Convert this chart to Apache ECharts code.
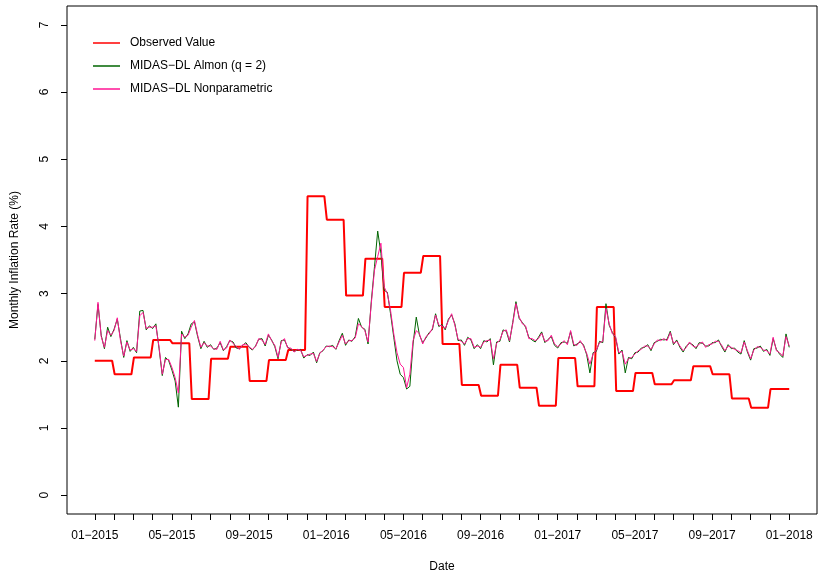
<!DOCTYPE html>
<html>
<head>
<meta charset="utf-8">
<script src="https://cdn.jsdelivr.net/npm/echarts@6/dist/echarts.min.js"></script>
<style>
  html, body { margin: 0; padding: 0; background: #fff; }
  #chart { width: 819px; height: 578px; }
</style>
</head>
<body>
<div id="chart"></div>
<script>
// observed monthly inflation, Jan 2015 .. Dec 2017 (one value per month)
var observed = [2.00, 1.80, 2.05, 2.31, 2.26, 1.43, 2.03, 2.21, 1.70, 2.01, 2.16, 4.45,
  4.10, 2.97, 3.52, 2.80, 3.31, 3.56, 2.25, 1.64, 1.48, 1.94, 1.60, 1.33,
  2.04, 1.62, 2.80, 1.55, 1.82, 1.65, 1.71, 1.92, 1.80, 1.44, 1.30, 1.58];

// nowcasts, 6 readings per month (217 points from 01-2015 to 01-2018)
var nonpar = [2.30, 2.87, 2.36, 2.20, 2.45, 2.38, 2.45, 2.64, 2.30, 2.07, 2.28, 2.16,
  2.18, 2.14, 2.67, 2.72, 2.48, 2.50, 2.50, 2.52, 2.20, 1.80, 2.02, 2.02,
  1.90, 1.75, 1.52, 2.40, 2.35, 2.38, 2.50, 2.60, 2.38, 2.20, 2.27, 2.22,
  2.22, 2.18, 2.17, 2.29, 2.16, 2.19, 2.31, 2.26, 2.21, 2.17, 2.24, 2.25,
  2.21, 2.17, 2.21, 2.33, 2.31, 2.24, 2.40, 2.30, 2.23, 2.05, 2.28, 2.33,
  2.19, 2.19, 2.13, 2.17, 2.16, 2.06, 2.08, 2.10, 2.11, 1.99, 2.11, 2.16,
  2.21, 2.22, 2.21, 2.18, 2.28, 2.38, 2.25, 2.30, 2.30, 2.34, 2.55, 2.51,
  2.45, 2.28, 2.85, 3.35, 3.55, 3.75, 3.10, 3.00, 2.75, 2.40, 2.12, 1.95,
  1.90, 1.60, 1.80, 2.30, 2.45, 2.40, 2.25, 2.36, 2.40, 2.48, 2.68, 2.53,
  2.52, 2.48, 2.60, 2.70, 2.53, 2.32, 2.29, 2.25, 2.33, 2.33, 2.20, 2.22,
  2.20, 2.28, 2.30, 2.31, 2.03, 2.26, 2.31, 2.44, 2.46, 2.30, 2.55, 2.85,
  2.65, 2.55, 2.52, 2.33, 2.33, 2.30, 2.33, 2.41, 2.29, 2.30, 2.38, 2.25,
  2.21, 2.25, 2.30, 2.24, 2.45, 2.24, 2.23, 2.30, 2.22, 2.11, 1.95, 2.10,
  2.16, 2.27, 2.29, 2.78, 2.55, 2.40, 2.36, 2.12, 2.14, 1.95, 2.03, 2.05,
  2.10, 2.15, 2.17, 2.22, 2.22, 2.17, 2.25, 2.31, 2.30, 2.33, 2.30, 2.42,
  2.26, 2.29, 2.22, 2.15, 2.20, 2.28, 2.22, 2.20, 2.25, 2.28, 2.20, 2.24,
  2.25, 2.29, 2.29, 2.23, 2.15, 2.22, 2.20, 2.17, 2.15, 2.12, 2.28, 2.15,
  2.03, 2.16, 2.21, 2.20, 2.16, 2.15, 2.10, 2.35, 2.15, 2.12, 2.07, 2.36,
  2.22];

var almon = [2.32, 2.84, 2.38, 2.18, 2.50, 2.36, 2.47, 2.62, 2.33, 2.05, 2.30, 2.14,
  2.20, 2.12, 2.74, 2.75, 2.46, 2.52, 2.48, 2.55, 2.18, 1.78, 2.05, 2.00,
  1.86, 1.70, 1.31, 2.44, 2.33, 2.40, 2.55, 2.58, 2.36, 2.18, 2.29, 2.20,
  2.24, 2.17, 2.19, 2.27, 2.15, 2.21, 2.30, 2.28, 2.19, 2.18, 2.23, 2.27,
  2.20, 2.16, 2.22, 2.32, 2.33, 2.22, 2.38, 2.31, 2.21, 2.03, 2.30, 2.31,
  2.20, 2.17, 2.14, 2.16, 2.17, 2.04, 2.09, 2.08, 2.13, 1.97, 2.12, 2.15,
  2.22, 2.21, 2.23, 2.17, 2.30, 2.41, 2.23, 2.31, 2.29, 2.36, 2.63, 2.50,
  2.47, 2.25, 2.88, 3.40, 3.93, 3.60, 3.05, 3.02, 2.70, 2.35, 2.00, 1.80,
  1.75, 1.58, 1.62, 2.25, 2.65, 2.38, 2.27, 2.34, 2.42, 2.46, 2.70, 2.51,
  2.54, 2.46, 2.62, 2.68, 2.55, 2.30, 2.31, 2.23, 2.35, 2.31, 2.18, 2.24,
  2.18, 2.30, 2.28, 2.33, 1.94, 2.28, 2.29, 2.46, 2.44, 2.28, 2.57, 2.88,
  2.63, 2.57, 2.50, 2.35, 2.31, 2.28, 2.35, 2.43, 2.27, 2.32, 2.36, 2.23,
  2.19, 2.27, 2.28, 2.26, 2.43, 2.22, 2.25, 2.28, 2.24, 2.09, 1.82, 2.12,
  2.14, 2.29, 2.27, 2.85, 2.53, 2.42, 2.34, 2.10, 2.16, 1.82, 2.05, 2.03,
  2.12, 2.13, 2.19, 2.20, 2.24, 2.15, 2.27, 2.29, 2.32, 2.31, 2.32, 2.44,
  2.24, 2.31, 2.20, 2.13, 2.22, 2.26, 2.24, 2.18, 2.27, 2.26, 2.22, 2.22,
  2.27, 2.27, 2.31, 2.21, 2.13, 2.24, 2.18, 2.19, 2.13, 2.10, 2.30, 2.13,
  2.01, 2.18, 2.19, 2.22, 2.14, 2.17, 2.08, 2.33, 2.17, 2.10, 2.05, 2.40,
  2.20];

// x axis: months since 01-2015
var tickMonths = [];
for (var m = 0; m <= 36; m++) tickMonths.push(m);
var labelMonths = [0, 4, 8, 12, 16, 20, 24, 28, 32, 36];
var labelText = ['01\u22122015', '05\u22122015', '09\u22122015', '01\u22122016', '05\u22122016',
  '09\u22122016', '01\u22122017', '05\u22122017', '09\u22122017', '01\u22122018'];
var yTicks = [0, 1, 2, 3, 4, 5, 6, 7];

// step line: each month flat, short ramp into the next one
var obsLine = [];
observed.forEach(function (v, k) {
  obsLine.push([k === 0 ? 0 : k + 0.03, v]);
  obsLine.push([k === observed.length - 1 ? k + 1 : k + 0.9, v]);
});
var perMonth = (nonpar.length - 1) / 36;
var nonparLine = nonpar.map(function (v, i) { return [i / perMonth, v]; });
var almonLine = almon.map(function (v, i) { return [i / perMonth, v]; });

var font = '"Liberation Sans", Arial, sans-serif';
var chart = echarts.init(document.getElementById('chart'));
chart.setOption({
  animation: false,
  backgroundColor: '#fff',
  grid: {
    left: 67, top: 6, right: 2, bottom: 61,
    show: true, borderColor: '#000', borderWidth: 1
  },
  legend: {
    orient: 'vertical', left: 88, top: 32,
    itemWidth: 27, itemHeight: 1.5, itemGap: 11, icon: 'rect',
    textStyle: { fontFamily: font, fontSize: 12, color: '#000', padding: [0, 0, 0, 5] },
    data: ['Observed Value', 'MIDAS\u2212DL Almon (q = 2)', 'MIDAS\u2212DL Nonparametric']
  },
  xAxis: {
    type: 'value', min: -1.44, max: 37.44,
    name: 'Date', nameLocation: 'middle', nameGap: 47,
    nameTextStyle: { fontFamily: font, fontSize: 12, color: '#000' },
    axisLine: { show: false, onZero: false },
    splitLine: { show: false },
    axisTick: { show: true, inside: false, length: 6, customValues: tickMonths,
      lineStyle: { color: '#000', width: 1 } },
    axisLabel: {
      customValues: labelMonths, margin: 16,
      fontFamily: font, fontSize: 12, color: '#000',
      formatter: function (v) { return labelText[labelMonths.indexOf(Math.round(v))] || ''; }
    }
  },
  yAxis: {
    type: 'value', min: -0.28, max: 7.28,
    name: 'Monthly Inflation Rate (%)', nameLocation: 'middle', nameGap: 46, nameRotate: 90,
    nameTextStyle: { fontFamily: font, fontSize: 12, color: '#000' },
    axisLine: { show: false, onZero: false },
    splitLine: { show: false },
    axisTick: { show: true, length: 6, customValues: yTicks,
      lineStyle: { color: '#000', width: 1 } },
    axisLabel: {
      customValues: yTicks, rotate: 90, margin: 16,
      fontFamily: font, fontSize: 12, color: '#000'
    }
  },
  series: [
    {
      name: 'Observed Value', type: 'line', data: obsLine, symbol: 'none',
      color: '#ff0000', lineStyle: { color: '#ff0000', width: 2 }, z: 2
    },
    {
      name: 'MIDAS\u2212DL Almon (q = 2)', type: 'line', data: almonLine, symbol: 'none',
      color: '#006400', lineStyle: { color: '#006400', width: 1 }, z: 3
    },
    {
      name: 'MIDAS\u2212DL Nonparametric', type: 'line', data: nonparLine, symbol: 'none',
      color: '#ff1493', lineStyle: { color: '#ff1493', width: 1 }, z: 4
    }
  ]
});
</script>
</body>
</html>
